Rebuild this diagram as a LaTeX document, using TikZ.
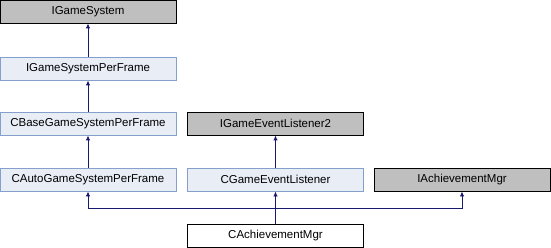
\documentclass[tikz,border=0pt]{standalone}
\usepackage{fontspec}
\setmainfont{Liberation Sans}
\usetikzlibrary{arrows.meta}

\definecolor{edgeblue}{HTML}{191970}
\definecolor{basegray}{HTML}{BFBFBF}
\definecolor{classfill}{HTML}{E8EDF6}
\definecolor{classline}{HTML}{86A0CE}

\tikzset{
  cls/.style={minimum width=176pt, minimum height=23pt, inner sep=0pt, line width=0.9pt,
    font=\fontsize{11.5}{13}\selectfont},
  extcls/.style={cls, draw=black, fill=basegray},
  doccls/.style={cls, draw=classline, fill=classfill},
  curcls/.style={cls, draw=black, fill=white},
  inh/.style={draw=edgeblue, line width=0.9pt, -{Latex[length=5pt,width=4.5pt]}}
}

\begin{document}
\begin{tikzpicture}[x=1pt,y=-1pt]
  \useasboundingbox (0,0) rectangle (551,248);
  % class boxes
  \node[extcls] (igs) at (88,11.5) {IGameSystem};
  \node[doccls] (igspf) at (88,68.5) {IGameSystemPerFrame};
  \node[doccls] (cbase) at (88,123.5) {CBaseGameSystemPerFrame};
  \node[extcls] (igel) at (275.5,123.5) {IGameEventListener2};
  \node[doccls] (cauto) at (88,179.5) {CAutoGameSystemPerFrame};
  \node[doccls] (cgel) at (275.5,179.5) {CGameEventListener};
  \node[extcls] (iach) at (462,179.5) {IAchievementMgr};
  \node[curcls] (mgr) at (275.5,235.5) {CAchievementMgr};
  % inheritance
  \draw[inh] (igspf) -- (igs);
  \draw[inh] (cbase) -- (igspf);
  \draw[inh] (cauto) -- (cbase);
  \draw[inh] (cgel) -- (igel);
  \draw[inh] (mgr) -- (cgel);
  \coordinate (join) at (275.5,208);
  \draw[inh] (join) -| (cauto.south);
  \draw[inh] (join) -| (iach.south);
\end{tikzpicture}
\end{document}
